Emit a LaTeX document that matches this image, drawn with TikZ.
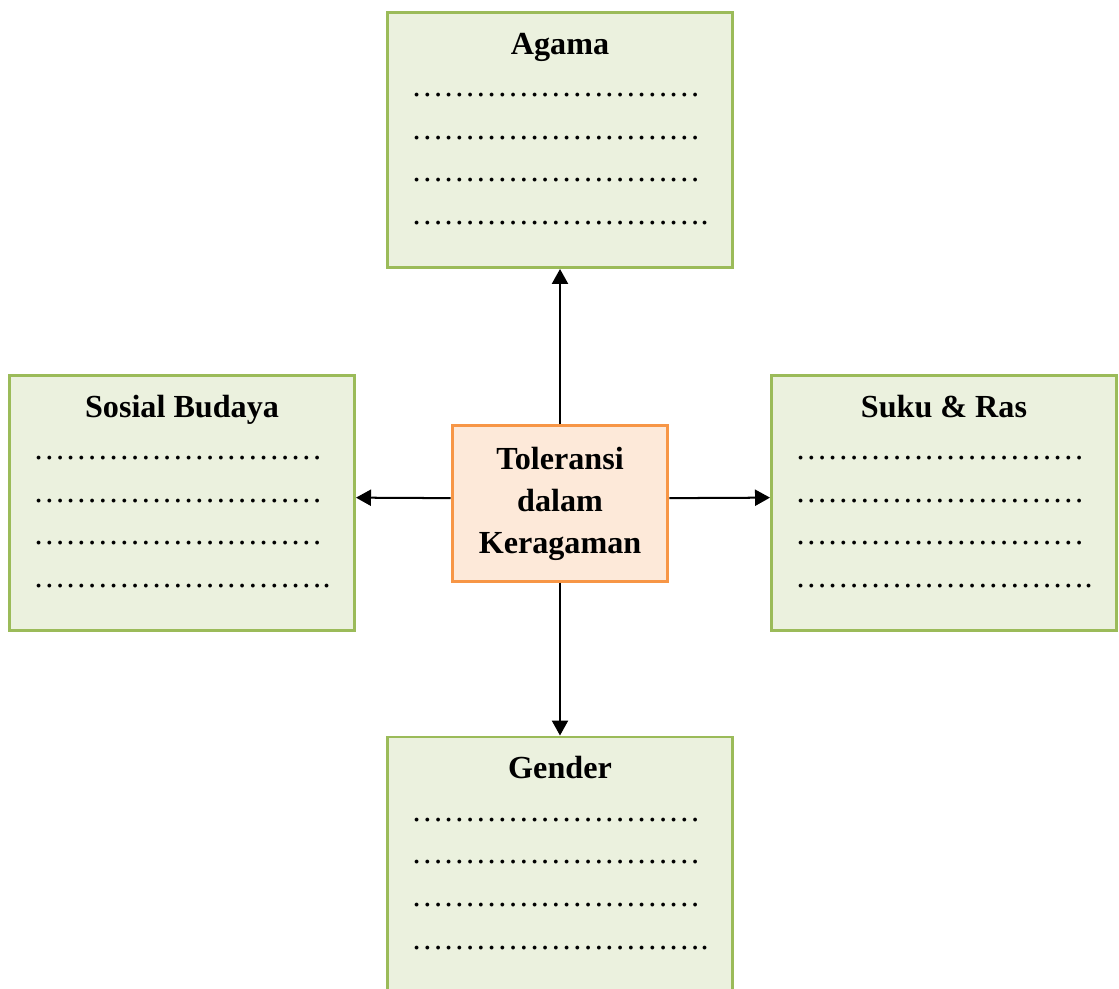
\documentclass[tikz,border=0pt]{standalone}
\usepackage{fontspec}
\setmainfont{Liberation Serif}
\usetikzlibrary{arrows.meta}

\definecolor{areaborder}{HTML}{9BBB59}
\definecolor{areafill}{HTML}{EBF1DE}
\definecolor{tolborder}{HTML}{F79646}
\definecolor{tolfill}{HTML}{FDE9D9}
\newcommand{\dotrow}{………………………}

\begin{document}
\begin{tikzpicture}
      [x=0.3733pt, y=-0.3733pt,
       area/.style={draw=areaborder, fill=areafill, line width=1.1pt,
         minimum width=128.8pt, minimum height=95.2pt},
       areatext/.style={anchor=base, align=center, inner sep=0pt,
         font=\fontsize{12}{15.9}\selectfont},
       link/.style={->, >={Triangle[length=5.6pt, width=6pt]}, line width=0.75pt}]
      \useasboundingbox (0, 0) rectangle (1119, 989);

      % centre
      \node[draw=tolborder, fill=tolfill, line width=1.1pt,
        minimum width=80.6pt, minimum height=57.9pt, align=center,
        font=\fontsize{12}{15.7}\selectfont\bfseries] (tol) at (560, 503.5)
        {Toleransi\\dalam\\Keragaman};

      % four areas
      \node[area] (agama) at (560, 140) {};
      \node[area] (sosial) at (182, 503) {};
      \node[area] (suku) at (944, 503) {};
      \node[area] (gender) at (560, 864.5) {};

      % base is the last row, so count from the bottom
      \node[areatext] (agamatext) at ([yshift=16.6pt]agama.south)
        {\textbf{Agama}\\\dotrow\phantom{.}\\\dotrow\phantom{.}\\\dotrow\phantom{.}\\\dotrow.};
      \node[areatext] (sosialtext) at ([yshift=16.6pt]sosial.south)
        {\textbf{Sosial Budaya}\\\dotrow\phantom{.}\\\dotrow\phantom{.}\\\dotrow\phantom{.}\\\dotrow.};
      \node[areatext] (sukutext) at ([yshift=16.6pt]suku.south)
        {\textbf{Suku \& Ras}\\\dotrow\phantom{.}\\\dotrow\phantom{.}\\\dotrow\phantom{.}\\\dotrow.};
      \node[areatext] (gendertext) at ([yshift=16.6pt]gender.south)
        {\textbf{Gender}\\\dotrow\phantom{.}\\\dotrow\phantom{.}\\\dotrow\phantom{.}\\\dotrow.};

      \draw[link] (tol.north) -- (agama.south);
      \draw[link] (tol.south) -- (gender.north);
      \draw[link] ([yshift=2pt]tol.west) -- ([yshift=2pt]sosial.east);
      \draw[link] ([yshift=2pt]tol.east) -- ([yshift=2pt]suku.west);
    \end{tikzpicture}
\end{document}
